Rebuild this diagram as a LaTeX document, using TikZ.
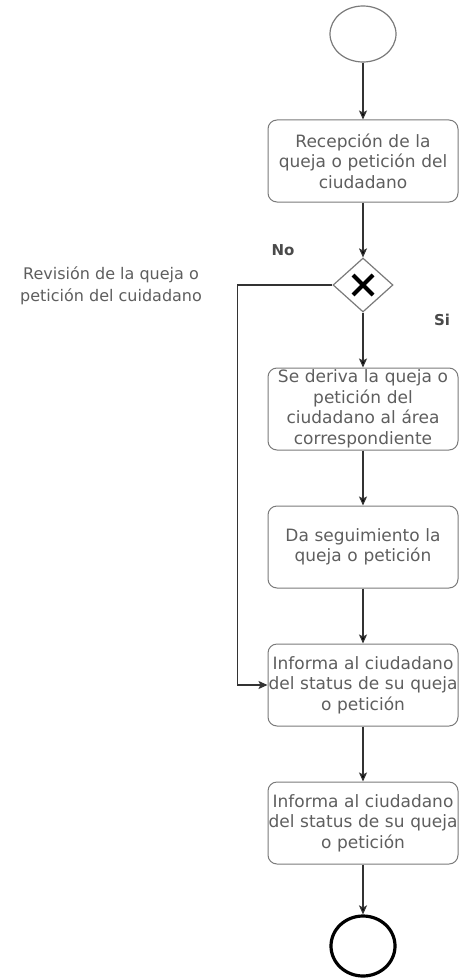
\documentclass[tikz,border=0pt]{standalone}
\usepackage{fontspec}
\setmainfont{DejaVu Sans}
\usetikzlibrary{arrows.meta}
\usetikzlibrary{shapes.geometric}

\definecolor{txtgray}{HTML}{5E5E5E}
\definecolor{boxgray}{HTML}{7A7A7A}
\definecolor{linegray}{HTML}{333333}
\definecolor{lblgray}{HTML}{4A4A4A}

\begin{document}
\begin{tikzpicture}[x=1pt,y=-1pt,->,>={Stealth[length=9pt,width=8pt,inset=2pt]},
  node distance=138pt,
  task/.style={draw=boxgray,line width=1pt,rounded corners=9pt,minimum width=190pt,
    minimum height=82pt,text width=190pt,inner xsep=0pt,inner ysep=2pt,align=center,
    text=txtgray,font=\fontsize{17}{20.5}\selectfont},
  startev/.style={ellipse,draw=boxgray,line width=1.2pt,minimum width=66pt,minimum height=56pt,inner sep=0pt},
  endev/.style={ellipse,draw=black,line width=3.2pt,minimum width=64pt,minimum height=60pt,inner sep=0pt},
  gate/.style={diamond,draw=boxgray,line width=1.2pt,minimum width=60pt,minimum height=54pt,inner sep=0pt},
  xmark/.style={-,line width=4pt,black},
  conn/.style={draw=linegray,line width=1.2pt},
  lbl/.style={text=lblgray,font=\fontsize{15}{17}\selectfont\bfseries},
  side/.style={text=txtgray,align=center,font=\fontsize{16}{22}\selectfont}]

  \useasboundingbox (0,0) rectangle (458,979);

  \node[startev] (start) at (363,34) {};
  \node[task] (recep) [below of=start, node distance=127pt] {Recepción de la\\queja o petición del\\ciudadano};
  \node[gate] (gw) [below of=recep, node distance=124pt] {};
  \node[task] (deriva) [below of=gw, node distance=124pt] {Se deriva la queja o\\petición del\\ciudadano al área\\correspondiente};
  \node[task] (segui) [below of=deriva] {Da seguimiento la\\queja o petición};
  \node[task] (informa) [below of=segui] {Informa al ciudadano\\del status de su queja\\o petición};
  \node[task] (informb) [below of=informa] {Informa al ciudadano\\del status de su queja\\o petición};
  \node[endev] (fin) [below of=informb, node distance=123pt] {};

  % cruz de la compuerta
  \draw[xmark] ([shift={(-10,-10)}]gw.center) -- ([shift={(10,10)}]gw.center)
               ([shift={(-10,10)}]gw.center) -- ([shift={(10,-10)}]gw.center);

  \node[side] (revision) at (111,286) {Revisión de la queja o\\petición del cuidadano};
  \node[lbl] (no) at (283,250) {No};
  \node[lbl] (si) at (442,320) {Si};

  \path[conn]
    (start) edge (recep)
    (recep) edge (gw)
    (gw) edge (deriva)
    (deriva) edge (segui)
    (segui) edge (informa)
    (informa) edge (informb)
    (informb) edge (fin);
  \draw[conn] (gw.west) -| ([xshift=-30pt]informa.west) -- (informa.west);
\end{tikzpicture}
\end{document}
